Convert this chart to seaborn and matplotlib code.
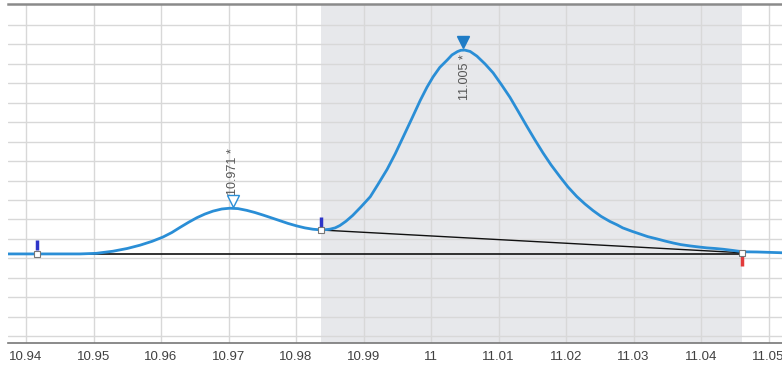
import numpy as np
import pandas as pd
import matplotlib
matplotlib.use("Agg")
import matplotlib.pyplot as plt
import seaborn as sns

# ---- data ----
time_min = [10.9373, 10.9421, 10.9480, 10.9504, 10.9529, 10.9550, 10.9569, 10.9587,
            10.9603, 10.9616, 10.9628, 10.9641, 10.9653, 10.9665, 10.9677, 10.9690,
            10.9702, 10.9714, 10.9727, 10.9739, 10.9751, 10.9764, 10.9776, 10.9788,
            10.9801, 10.9813, 10.9825, 10.9839, 10.9850, 10.9858, 10.9865, 10.9874,
            10.9884, 10.9896, 10.9910, 10.9921, 10.9935, 10.9947, 10.9959, 10.9972,
            10.9984, 10.9994, 11.0003, 11.0013, 11.0024, 11.0031, 11.0039, 11.0044,
            11.0050, 11.0058, 11.0068, 11.0080, 11.0092, 11.0104, 11.0117, 11.0129,
            11.0142, 11.0154, 11.0166, 11.0178, 11.0191, 11.0203, 11.0216, 11.0228,
            11.0240, 11.0252, 11.0265, 11.0276, 11.0284, 11.0298, 11.0310, 11.0321,
            11.0335, 11.0347, 11.0359, 11.0370, 11.0384, 11.0396, 11.0409, 11.0421,
            11.0433, 11.0447, 11.0462, 11.0483, 11.0520]
signal = [0.23, 0.23, 0.23, 0.26, 0.37, 0.51, 0.68, 0.88,
          1.10, 1.33, 1.59, 1.86, 2.09, 2.28, 2.43, 2.54,
          2.58, 2.56, 2.47, 2.36, 2.23, 2.08, 1.94, 1.80,
          1.67, 1.57, 1.50, 1.46, 1.50, 1.57, 1.69, 1.91,
          2.21, 2.64, 3.17, 3.78, 4.58, 5.38, 6.26, 7.22,
          8.12, 8.80, 9.33, 9.82, 10.20, 10.46, 10.63, 10.70,
          10.71, 10.64, 10.40, 10.00, 9.54, 8.95, 8.28, 7.57,
          6.79, 6.09, 5.42, 4.80, 4.20, 3.67, 3.18, 2.80,
          2.46, 2.16, 1.90, 1.72, 1.57, 1.39, 1.25, 1.12,
          1.00, 0.89, 0.79, 0.71, 0.64, 0.59, 0.54, 0.51,
          0.47, 0.41, 0.34, 0.33, 0.29]

tick_values = [10.94, 10.95, 10.96, 10.97, 10.98, 10.99, 11.00, 11.01, 11.02, 11.03, 11.04, 11.05]
tick_labels = ["10.94", "10.95", "10.96", "10.97", "10.98", "10.99", "11", "11.01",
               "11.02", "11.03", "11.04", "11.05"]

peak_times = [10.9707, 11.0047]
peak_labels = ["10.971 *", "11.005 *"]

integ_start = [10.9416, 10.9837]
integ_end = [10.9837, 11.0461]
integ_start_y = [0.23, 1.46]
integ_end_y = [1.46, 0.29]

# ---- style ----
sns.set_style("white")
plt.rcParams["font.family"] = ["Liberation Sans", "DejaVu Sans"]

fig = plt.figure(figsize=(7.82, 3.67), dpi=100)
ax = fig.add_axes([8 / 782, 24 / 367, 774 / 782, 339 / 367])

blue = "#2a8ed6"

ax.set_xlim(10.93733, 11.0520)
ax.set_ylim(-4.35, 13.08)

# grid
ax.set_xticks(tick_values)
ax.set_xticklabels(tick_labels)
ax.set_yticks(np.arange(-4, 13, 1))
ax.set_yticklabels([])
ax.set_axisbelow(True)

# shaded integration region of main peak
ax.axvspan(integ_start[1], integ_end[1], color="#e7e8eb", zorder=0.5, lw=0)
ax.grid(True, color="#d8d8d8", lw=1.0)

# baselines
ax.plot([integ_start[0], integ_end[1]], [integ_start_y[0], integ_start_y[0]],
        color="#222222", lw=1.3, zorder=2)
ax.plot([integ_start[1], integ_end[1]], [integ_start_y[1], integ_end_y[1]],
        color="#111111", lw=1.0, zorder=3)

# peak label texts (under the curve)
ax.text(peak_times[0], 3.26, peak_labels[0], rotation=90, ha="center", va="bottom",
        fontsize=9, color="#555555", zorder=1.5)
ax.text(peak_times[1] + 0.0003, 10.5, peak_labels[1], rotation=90, ha="center", va="top",
        fontsize=9, color="#555555", zorder=1.5)

# chromatogram
df = pd.DataFrame({"time": time_min, "signal": signal})
sns.lineplot(data=df, x="time", y="signal", color=blue, lw=2.0, ax=ax, zorder=4)

# peak apex markers
ax.plot(peak_times[0], 2.95, marker="v", ms=8, mfc="white", mec=blue, mew=1.0, zorder=5)
ax.plot(peak_times[1], 11.13, marker="v", ms=8, mfc="#1f7cc6", mec="#1f7cc6", zorder=5)

# integration tick marks
ax.plot([integ_start[0], integ_start[0]], [0.45, 0.95], color="#2e35c8", lw=2.5,
        solid_capstyle="butt", zorder=6)
ax.plot([integ_start[1], integ_start[1]], [1.58, 2.13], color="#2e35c8", lw=2.5,
        solid_capstyle="butt", zorder=6)
ax.plot([integ_end[1], integ_end[1]], [-0.40, 0.10], color="#e23b3b", lw=2.5,
        solid_capstyle="butt", zorder=6)
ax.plot([integ_start[0], integ_start[1], integ_end[1]],
        [integ_start_y[0], integ_start_y[1], integ_end_y[1]],
        ls="none", marker="s", ms=4, mfc="white", mec="#777777", mew=0.8, zorder=7)

ax.set_xlabel("")
ax.set_ylabel("")

# spines
for s in ["left", "right"]:
    ax.spines[s].set_visible(False)
ax.spines["top"].set_color("#8a8a8a")
ax.spines["top"].set_linewidth(1.8)
ax.spines["bottom"].set_color("#777777")
ax.spines["bottom"].set_linewidth(1.2)

ax.tick_params(axis="x", direction="in", length=4, color="#aaaaaa", labelsize=9.5,
               labelcolor="#404040", pad=6)
ax.tick_params(axis="y", length=0)
ax.set_xticks(np.arange(10.94, 11.0505, 0.002), minor=True)
ax.tick_params(axis="x", which="minor", direction="in", length=2, color="#cccccc")

fig.savefig("out.png", dpi=100)
